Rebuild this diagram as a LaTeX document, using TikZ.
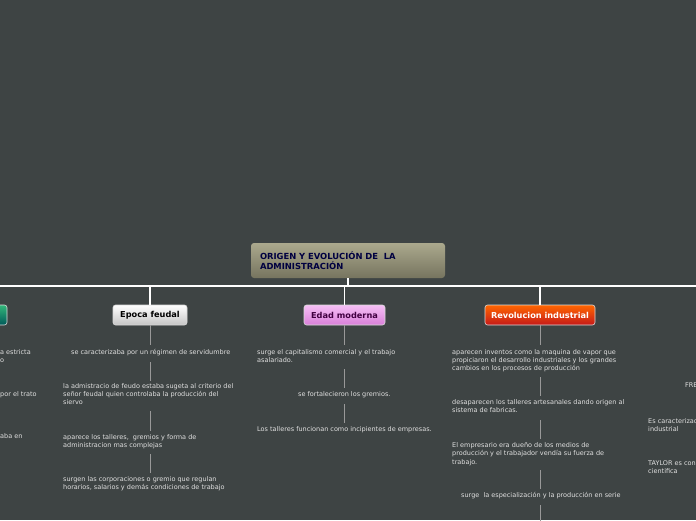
\documentclass[tikz,border=0pt]{standalone}
\usepackage{fontspec}
\setmainfont{DejaVu Sans}
\begin{document}
\begin{tikzpicture}[x=1pt,y=-1pt,
  txt/.style={font=\fontsize{6.5}{8.4}\selectfont, text=white!88!black, inner sep=0pt, align=left, anchor=north west},
  conn/.style={draw=gray!80, line width=1pt},
  main/.style={draw=white, line width=1.2pt},
  box/.style={rounded corners=2.5pt, draw=white!85!black, line width=0.6pt, font=\fontsize{8.2}{9}\selectfont\bfseries, minimum height=20pt, inner xsep=4pt}]
\definecolor{bg}{HTML}{3E4444}
\definecolor{rtop}{HTML}{ABA98D}
\definecolor{rbot}{HTML}{76745F}
\useasboundingbox (0,0) rectangle (696,520);
\fill[bg] (0,0) rectangle (696,520);
\begin{scope}
\clip (0,0) rectangle (696,520);
% root
\node[rounded corners=3pt, top color=rtop, bottom color=rbot, minimum width=194pt, minimum height=35pt, text=blue!25!black, font=\fontsize{8.4}{10.5}\selectfont\bfseries, align=left, text width=176pt] (root) at (348,260.5) {ORIGEN Y EVOLUCIÓN DE\ \ LA\\ADMINISTRACIÓN};
\coordinate (hl) at (0,286); \coordinate (hr) at (696,286); \coordinate (hm) at (348,286);
\draw[main] (hl) -- (hr);
\draw[main] (root.south) -- (hm);
% branch boxes
\node[box, top color=white, bottom color=gray!45, text=black, minimum width=74pt] (feudal) at (150,315) {Epoca feudal};
\node[box, top color=violet!30!magenta!25, bottom color=violet!60!magenta!50, text=violet!50!black, minimum width=81pt] (moderna) at (344.5,315) {Edad moderna};
\node[box, top color=orange!80!red, bottom color=red!75!black!90, text=white, minimum width=110pt] (revol) at (540,315) {Revolucion industrial};
\node[box, top color=teal!70!green!80, bottom color=teal!70!black, minimum width=40pt] (green) at (-13,315) {};
\coordinate (b1) at (150,286); \coordinate (b2) at (344.5,286); \coordinate (b3) at (540,286);
\draw[main] (b1) -- (feudal.north);
\draw[main] (b2) -- (moderna.north);
\draw[main] (b3) -- (revol.north);
% feudal column
\node[txt] (f1) at (71,349) {se caracterizaba por un régimen de servidumbre};
\node[txt] (f2) at (63,383) {la admistracio de feudo estaba sugeta al criterio del\\señor feudal quien controlaba la producción del\\siervo};
\node[txt] (f3) at (63,434) {aparece los talleres,\ \ gremios y forma de\\administracion mas complejas};
\node[txt] (f4) at (63,476) {surgen las corporaciones o gremio que regulan\\horarios, salarios y demás condiciones de trabajo};
\draw[conn] (feudal.south) -- (150,345);
\draw[conn] (150,362) -- (150,381);
\draw[conn] (150,411) -- (150,431);
\draw[conn] (150,454) -- (150,473);
% moderna column
\node[txt] (m1) at (257,349) {surge el capitalismo comercial y el trabajo\\asalariado.};
\node[txt] (m2) at (298,391) {se fortalecieron los gremios.};
\node[txt] (m3) at (257,426) {Los talleres funcionan como incipientes de empresas.};
\draw[conn] (moderna.south) -- (344.5,345);
\draw[conn] (344.5,369) -- (344.5,388);
\draw[conn] (344.5,404) -- (344.5,423);
% revol column
\node[txt] (r1) at (452,349) {aparecen inventos como la maquina de vapor que\\propiciaron el desarrollo industriales y los grandes\\cambios en los procesos de producción};
\node[txt] (r2) at (452,399) {desaparecen los talleres artesanales dando origen al\\sistema de fabricas.};
\node[txt] (r3) at (452,442) {El empresario era dueño de los medios de\\producción y el trabajador vendía su fuerza de\\trabajo.};
\node[txt] (r4) at (461,492) {surge\ \ la especialización y la producción en serie};
\draw[conn] (revol.south) -- (540,345);
\draw[conn] (540,377) -- (540,396);
\draw[conn] (540,420) -- (540,439);
\draw[conn] (540,470) -- (540,489);
\draw[conn] (540,505) -- (540,525);
% left partial column
\node[txt] (l1) at (0,349) {a estricta\\o};
\node[txt] (l2) at (0,391) {por el trato};
\node[txt] (l3) at (0,433) {aba en};
% right partial column
\node[txt] (q1) at (685,383) {FRE};
\node[txt] (q2) at (648,418) {Es caracterizac\\industrial};
\node[txt] (q3) at (648,460) {TAYLOR es con\\cientifica};
\end{scope}
\end{tikzpicture}
\end{document}
